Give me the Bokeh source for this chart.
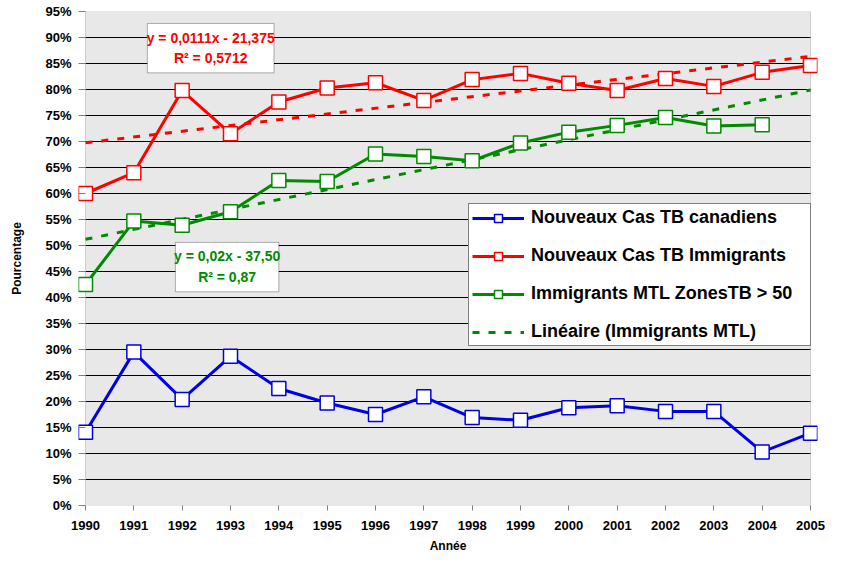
import numpy as np
from bokeh.plotting import figure
from bokeh.models import (Legend, LegendItem, FixedTicker, PrintfTickFormatter,
                          BoxAnnotation, Label, Range1d)
from bokeh.embed import file_html
from bokeh.resources import INLINE

# ---- data ----
years = list(range(1990, 2006))
canadiens = [14.1, 29.5, 20.4, 28.7, 22.5, 19.7, 17.5, 20.9, 16.9, 16.4, 18.8, 19.2, 18.1, 18.1, 10.3, 13.9]
immigrants = [60.0, 64.0, 79.8, 71.5, 77.6, 80.3, 81.3, 77.9, 81.9, 83.1, 81.2, 79.8, 82.1, 80.6, 83.3, 84.6]
mtl_years = list(range(1990, 2005))
mtl = [42.5, 54.7, 53.9, 56.5, 62.5, 62.3, 67.6, 67.1, 66.3, 69.7, 71.8, 73.1, 74.6, 73.0, 73.2]
y_ticks = list(range(0, 100, 5))

label_canadiens = "Nouveaux Cas TB canadiens"
label_immigrants = "Nouveaux Cas TB Immigrants"
label_mtl = "Immigrants MTL ZonesTB > 50"
label_trend = "Linéaire (Immigrants MTL)"
eq_red = ["y = 0,0111x - 21,375", "R² = 0,5712"]
eq_green = ["y = 0,02x - 37,50", "R² = 0,87"]

# linear trend lines (Excel "Linéaire" = least squares fit)
red_fit = np.polyfit(years, immigrants, 1)
green_fit = np.polyfit(mtl_years, mtl, 1)
trend_x = [years[0], years[-1]]
red_trend = list(np.polyval(red_fit, trend_x))
green_trend = list(np.polyval(green_fit, trend_x))

BLUE = "#0000e0"
RED = "#ff0000"
GREEN = "#008a00"
FONT = "Liberation Sans"

W, H = 825, 555
PAD = 7                      # px of free room beside the plot area so edge markers are not cut
BL, BR, BT, BB = 85 - PAD, 8, 11, 50
FW = W - BL - BR
X0, X1, Y0, Y1 = years[0], years[-1], 0, 95
xpad = PAD * (X1 - X0) / (FW - 2 * PAD)

p = figure(width=W, height=H, output_backend="svg", toolbar_location=None,
           x_range=Range1d(X0 - xpad, X1 + xpad), y_range=Range1d(Y0, Y1),
           min_border_left=BL, min_border_right=BR, min_border_top=BT, min_border_bottom=BB,
           background_fill_color="white", border_fill_color="white")
p.outline_line_color = None

# plot area (textured grey in the original)
p.add_layout(BoxAnnotation(left=X0, right=X1, fill_color="#e8e8e8", fill_alpha=1,
                           line_color="#808080", line_width=1, level="underlay"))

# axes
p.xaxis.ticker = FixedTicker(ticks=years)
p.yaxis.ticker = FixedTicker(ticks=y_ticks)
p.yaxis.formatter = PrintfTickFormatter(format="%d%%")
for ax in (p.xaxis[0], p.yaxis[0]):
    ax.axis_line_color = None
    ax.major_tick_line_color = "#808080"
    ax.minor_tick_line_color = None
    ax.major_tick_in = 0
    ax.major_label_text_font = FONT
    ax.major_label_text_font_style = "bold"
    ax.major_label_text_font_size = "13px"
    ax.major_label_text_color = "black"
    ax.axis_label_text_font = FONT
    ax.axis_label_text_font_style = "bold"
    ax.axis_label_text_font_size = "12px"
    ax.axis_label_text_color = "black"
p.xaxis.major_tick_out = 5
p.yaxis.major_tick_out = 0
p.yaxis.major_tick_in = PAD
p.xaxis.major_label_standoff = 10
p.yaxis.major_label_standoff = 7
p.xaxis.axis_label = "Année"
p.yaxis.axis_label = "Pourcentage"
p.xaxis.axis_label_standoff = 6
p.yaxis.axis_label_standoff = 18

p.xgrid.grid_line_color = None
p.ygrid.grid_line_color = None
# horizontal grid lines across the plot area only
grid_y = y_ticks[1:-1]
p.segment(x0=[X0] * len(grid_y), x1=[X1] * len(grid_y), y0=grid_y, y1=grid_y,
          line_color="black", line_width=1)

# trend lines
r_red_trend = p.line(trend_x, red_trend, line_color=RED, line_width=3, line_dash="7 9")
r_green_trend = p.line(trend_x, green_trend, line_color=GREEN, line_width=3, line_dash="7 9")

# series
r_b_line = p.line(years, canadiens, line_color=BLUE, line_width=3)
r_r_line = p.line(years, immigrants, line_color=RED, line_width=3)
r_g_line = p.line(mtl_years, mtl, line_color=GREEN, line_width=3)
r_b_pts = p.scatter(years, canadiens, marker="square", size=14, fill_color="white", line_color=BLUE, line_width=1.5)
r_r_pts = p.scatter(years, immigrants, marker="square", size=14, fill_color="white", line_color=RED, line_width=1.5)
r_g_pts = p.scatter(mtl_years, mtl, marker="square", size=14, fill_color="white", line_color=GREEN, line_width=1.5)

# equation boxes
p.add_layout(BoxAnnotation(left=1991.28, right=1993.9, top=92.7, bottom=83.2,
                           fill_color="white", fill_alpha=1, line_color="black", line_width=1))
p.add_layout(BoxAnnotation(left=1991.86, right=1994.0, top=50.6, bottom=41.1,
                           fill_color="white", fill_alpha=1, line_color="black", line_width=1))
for txt, yy in zip(eq_red, [90.0, 86.0]):
    p.add_layout(Label(x=1992.59, y=yy, text=txt, text_align="center", text_baseline="middle",
                       text_font=FONT, text_font_style="bold", text_font_size="14px", text_color=RED))
for txt, yy in zip(eq_green, [47.9, 43.9]):
    p.add_layout(Label(x=1992.93, y=yy, text=txt, text_align="center", text_baseline="middle",
                       text_font=FONT, text_font_style="bold", text_font_size="14px", text_color=GREEN))

legend = Legend(items=[
    LegendItem(label=label_canadiens, renderers=[r_b_line, r_b_pts]),
    LegendItem(label=label_immigrants, renderers=[r_r_line, r_r_pts]),
    LegendItem(label=label_mtl, renderers=[r_g_line, r_g_pts]),
    LegendItem(label=label_trend, renderers=[r_green_trend]),
], location=(390, 159))
legend.label_text_font = FONT
legend.label_text_font_style = "bold"
legend.label_text_font_size = "18px"
legend.label_text_color = "black"
legend.glyph_width = 52
legend.glyph_height = 20
legend.label_height = 20
legend.label_width = 276
legend.label_standoff = 7
legend.spacing = 17
legend.padding = 3
legend.border_line_color = "black"
legend.border_line_width = 1
legend.background_fill_color = "white"
legend.background_fill_alpha = 1
p.add_layout(legend, "center")

open("out.html", "w").write(file_html(p, INLINE))
